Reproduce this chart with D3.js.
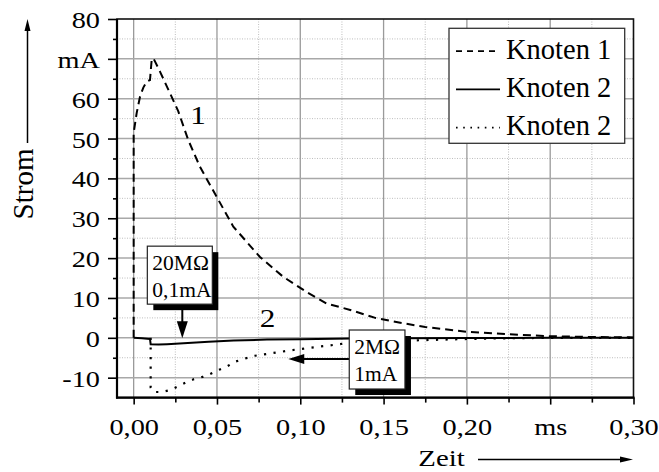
<!DOCTYPE html>
<html><head><meta charset="utf-8">
<script src="https://cdn.jsdelivr.net/npm/d3@7"></script>
<style>
body{margin:0;background:#fff}
svg{display:block}
text{font-family:"Liberation Serif","Times New Roman",Times,serif;fill:#000}
</style>
</head><body>
<svg id="chart" width="659" height="472"></svg>
<script>
// ---- data ----
const xTicks=[0,0.05,0.10,0.15,0.20,0.25,0.30];
const xTickLabels=["0,00","0,05","0,10","0,15","0,20","ms","0,30"];
const xMinorTicks=[0.025,0.075,0.125,0.175,0.225,0.275];
const yTicks=[-10,0,10,20,30,40,50,60,70,80];
const yTickLabels=["-10","0","10","20","30","40","50","60","mA","80"];
const yMinorTicks=[-5,5,15,25,35,45,55,65,75];
const seriesNames=["Knoten 1","Knoten 2","Knoten 2"];

const k1Time=[0,0,0.0018,0.0038,0.0058,0.0078,0.0098,0.0108,0.0118,0.0158,0.0218,0.0268,0.0328,0.0398,0.0498,0.0598,0.0758,0.0898,0.1038,0.1158,0.13,0.145,0.16,0.175,0.2,0.225,0.25,0.275,0.3];
const k1Current=[0,51.4,56.4,60.5,62.8,64.3,64.7,69.7,70.2,66.8,61.4,56.8,49.6,42.9,35.4,27.9,20.3,15.3,11.5,8.6,7.0,5.0,3.8,2.7,1.5,0.9,0.4,0.2,0.1];

const k2sTime=[0,0.005,0.0098,0.0102,0.015,0.02,0.03,0.045,0.06,0.08,0.1,0.13,0.16,0.2,0.25,0.3];
const k2sCurrent=[0,-0.1,-0.3,-1.6,-1.7,-1.6,-1.35,-1.0,-0.65,-0.45,-0.35,-0.2,-0.1,-0.05,0,0];

const k2dTime=[0.0102,0.0102,0.012,0.0166,0.022,0.027,0.0318,0.036,0.0414,0.0458,0.0514,0.0564,0.0608,0.0668,0.0728,0.0838,0.0948,0.1058,0.1178,0.1268,0.14,0.155,0.172,0.19,0.21,0.23,0.25,0.3];
const k2dCurrent=[0,-12.5,-13.6,-13.6,-13.1,-12.1,-11.1,-10.4,-9.8,-9.1,-8.0,-7.1,-6.0,-5.2,-4.5,-3.8,-3.1,-2.5,-1.9,-1.4,-1.0,-0.8,-0.6,-0.4,-0.2,-0.1,0,0];

// ---- setup ----
const svg=d3.select("#chart");
const L=117,R=633.5,T=19,B=397.6;
const x=d3.scaleLinear().domain([-0.01,0.30]).range([L,R]);
const y=d3.scaleLinear().domain([-15,80]).range([B,T]);
const SERIF='"Liberation Serif","Times New Roman",Times,serif';

// grid
const g=svg.append("g");
g.selectAll(".mx").data(xMinorTicks).join("line")
 .attr("x1",d=>x(d)).attr("x2",d=>x(d)).attr("y1",T).attr("y2",B)
 .attr("stroke","#bdbdbd").attr("stroke-width",1).attr("stroke-dasharray","1,1.5");
g.selectAll(".my").data(yMinorTicks).join("line")
 .attr("y1",d=>y(d)).attr("y2",d=>y(d)).attr("x1",L).attr("x2",R)
 .attr("stroke","#bdbdbd").attr("stroke-width",1).attr("stroke-dasharray","1,1.5");
g.selectAll(".gx").data(xTicks.filter(d=>d<0.3)).join("line")
 .attr("x1",d=>x(d)).attr("x2",d=>x(d)).attr("y1",T).attr("y2",B)
 .attr("stroke","#9a9a9a").attr("stroke-width",1.3);
g.selectAll(".gy").data(yTicks.filter(d=>d<80)).join("line")
 .attr("y1",d=>y(d)).attr("y2",d=>y(d)).attr("x1",L).attr("x2",R)
 .attr("stroke","#a8a8a8").attr("stroke-width",1.5);

// axes
const xa=svg.append("g").attr("transform",`translate(0,${B})`)
 .call(d3.axisBottom(x).tickValues(xTicks).tickSize(7).tickFormat(d=>xTickLabels[xTicks.indexOf(d)]));
const xm=svg.append("g").attr("transform",`translate(0,${B})`)
 .call(d3.axisBottom(x).tickValues(xMinorTicks).tickSize(5).tickFormat(""));
const ya=svg.append("g").attr("transform",`translate(${L},0)`)
 .call(d3.axisLeft(y).tickValues(yTicks).tickSize(9).tickFormat(d=>yTickLabels[yTicks.indexOf(d)]));
const ym=svg.append("g").attr("transform",`translate(${L},0)`)
 .call(d3.axisLeft(y).tickValues(yMinorTicks).tickSize(4).tickFormat(""));
[xa,xm,ya,ym].forEach(a=>{a.select(".domain").remove();a.selectAll("line").attr("stroke","#000").attr("stroke-width",1.6);});
const SX=1.18;
xa.selectAll("text").attr("y",37.4).attr("dy",0).attr("font-size",24)
 .attr("font-family",SERIF).attr("transform",`scale(${SX},1)`);
ya.selectAll("text").attr("x",-17/SX).attr("dy",0).attr("y",8.5).attr("font-size",24)
 .attr("font-family",SERIF).attr("transform",`scale(${SX},1)`);

// frame
svg.append("rect").attr("x",L).attr("y",T).attr("width",R-L).attr("height",B-T)
 .attr("fill","none").attr("stroke","#111").attr("stroke-width",1.6);
svg.append("line").attr("x1",L).attr("x2",L).attr("y1",T).attr("y2",B+1).attr("stroke","#000").attr("stroke-width",2.2);
svg.append("line").attr("x1",L-1).attr("x2",R+1).attr("y1",B).attr("y2",B).attr("stroke","#000").attr("stroke-width",2.2);

// curves
const line=d3.line().x(d=>x(d[0])).y(d=>y(d[1]));
const zip=(a,b)=>a.map((v,i)=>[v,b[i]]);
svg.append("path").datum(zip(k2sTime,k2sCurrent)).attr("d",line)
 .attr("fill","none").attr("stroke","#000").attr("stroke-width",2);
svg.append("path").datum(zip(k2dTime,k2dCurrent)).attr("d",line)
 .attr("fill","none").attr("stroke","#000").attr("stroke-width",2.2).attr("stroke-dasharray","2.2,7.4");
svg.append("path").datum(zip(k1Time,k1Current)).attr("d",line)
 .attr("fill","none").attr("stroke","#000").attr("stroke-width",2).attr("stroke-dasharray","8,5");

// stretched text helper
function stretchText(xp,yp,txt,size,sx,anchor){
  svg.append("text").attr("transform",`translate(${xp},${yp}) scale(${sx},1)`)
   .attr("text-anchor",anchor||"middle").attr("font-size",size).text(txt);
}
stretchText(x(0.0386),y(53.6),"1",26,1.2);
stretchText(x(0.0803),y(2.8),"2",26,1.2);

// annotation boxes
function noteBox(bx,by,w,h,lines){
  svg.append("rect").attr("x",bx+6).attr("y",by+6).attr("width",w).attr("height",h).attr("fill","#000");
  svg.append("rect").attr("x",bx).attr("y",by).attr("width",w).attr("height",h)
   .attr("fill","#fff").attr("stroke","#222").attr("stroke-width",1.2);
  lines.forEach((t,i)=>svg.append("text").attr("x",bx+5).attr("y",by+24+i*27)
   .attr("font-size",21.5).text(t));
}
// box 1 with downward arrow
const b1x=x(0.0082),b1y=y(23),b1w=65,b1h=58;
const a1x=x(0.0292),a1tip=y(0)+0.5;
svg.append("line").attr("x1",a1x).attr("x2",a1x).attr("y1",b1y+b1h).attr("y2",a1tip-12).attr("stroke","#000").attr("stroke-width",2);
svg.append("path").attr("d",`M${a1x-5.5},${a1tip-17}L${a1x+5.5},${a1tip-17}L${a1x},${a1tip}Z`).attr("fill","#000");
noteBox(b1x,b1y,b1w,b1h,["20MΩ","0,1mA"]);

// box 2 with leftward arrow
const b2x=x(0.1294),b2y=y(1.96),b2w=55.7,b2h=59;
const a2y=y(-5.3),a2tip=x(0.0928);
svg.append("line").attr("x1",b2x).attr("x2",a2tip+12).attr("y1",a2y).attr("y2",a2y).attr("stroke","#000").attr("stroke-width",2);
svg.append("path").attr("d",`M${a2tip+16},${a2y-5}L${a2tip+16},${a2y+5}L${a2tip},${a2y}Z`).attr("fill","#000");
noteBox(b2x,b2y,b2w,b2h,["2MΩ","1mA"]);

// legend
const lg=svg.append("g");
lg.append("rect").attr("x",449).attr("y",28.3).attr("width",175.7).attr("height",115)
 .attr("fill","#fff").attr("stroke","#333").attr("stroke-width",1.3);
const dashes=["6,5",null,"1.6,5.6"];
seriesNames.forEach((n,i)=>{
  const by=58.5+i*38.2;
  const l=lg.append("line").attr("x1",456).attr("x2",500).attr("y1",by-7.3).attr("y2",by-7.3)
   .attr("stroke","#000").attr("stroke-width",1.8);
  if(dashes[i]) l.attr("stroke-dasharray",dashes[i]);
  lg.append("text").attr("x",506).attr("y",by).attr("font-size",28.5).text(n);
});

// axis titles with arrows
svg.append("text").attr("transform","translate(32.7,184) rotate(-90)")
 .attr("text-anchor","middle").attr("font-size",29).text("Strom");
svg.append("line").attr("x1",27.5).attr("x2",27.5).attr("y1",143).attr("y2",28).attr("stroke","#000").attr("stroke-width",1.5);
svg.append("path").attr("d","M24.5,31L30.5,31L27.5,19Z").attr("fill","#000");

stretchText(418.3,466,"Zeit",24,1.2,"start");
svg.append("line").attr("x1",478).attr("x2",624).attr("y1",459.5).attr("y2",459.5).attr("stroke","#000").attr("stroke-width",1.5);
svg.append("path").attr("d","M620,456.5L620,462.5L633,459.5Z").attr("fill","#000");
</script>
</body></html>
